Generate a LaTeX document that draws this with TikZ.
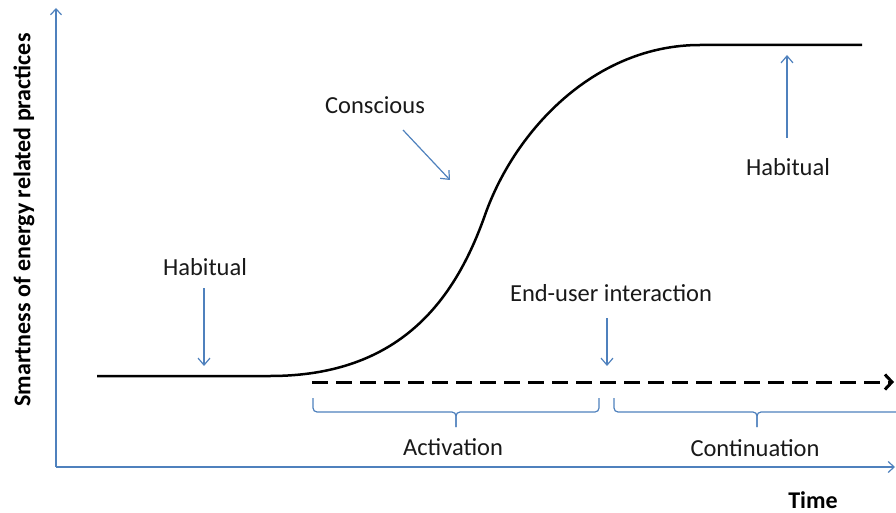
\documentclass[tikz,border=0pt]{standalone}
\usepackage{fontspec}
\setmainfont{Carlito}
\usetikzlibrary{arrows.meta}
\definecolor{axisblue}{RGB}{79,129,189}
\begin{document}
\begin{tikzpicture}[x=1pt,y=-1pt,
  lbl/.style={font=\fontsize{24.5}{28}\selectfont, text=black!90, inner sep=0pt},
  blbl/.style={font=\fontsize{24}{28}\selectfont\bfseries, text=black, inner sep=0pt},
  bluearrow/.style={draw=axisblue, line width=1.2pt, -{Straight Barb[length=7pt,width=12pt,line width=1.2pt]}},
  axisline/.style={draw=axisblue, line width=1.3pt, -{Straight Barb[length=6pt,width=11pt,line width=1.2pt]}},
  curve/.style={draw=black, line width=2.5pt},
  dashline/.style={draw=black, line width=3pt, dash pattern=on 16pt off 8pt, -{Straight Barb[length=7pt,width=15pt,line width=3pt]}},
  bracestyle/.style={draw=axisblue, line width=1.2pt, rounded corners=4pt}]
\useasboundingbox (0,0) rectangle (896,513);
\clip (0,0) rectangle (896,513);
% axes
\coordinate (origin) at (56,467);
\coordinate (ytop) at (56,8);
\coordinate (xend) at (895,467);
\draw[axisline] (origin) -- (ytop);
\draw[axisline] (origin) -- (xend);
\node[blbl, rotate=90] (ylabel) at (24,220) {Smartness of energy related practices};
\node[blbl] (time) at (813,500) {Time};
% S-curve
\coordinate (c0) at (97,376);
\coordinate (c1) at (270,376);
\coordinate (c2) at (485,215);
\coordinate (c3) at (700,45);
\coordinate (c4) at (862,45);
\draw[curve] (c0) -- (c1) .. controls (400,376) and (455,300) .. (c2)
  .. controls (515,130) and (595,45) .. (c3) -- (c4);
% dashed arrow
\coordinate (d0) at (312,382);
\coordinate (d1) at (894,382);
\draw[dashline] (d0) -- (d1);
% labels
\node[lbl] (hab1) at (205,267) {Habitual};
\node[lbl] (consc) at (375,105) {Conscious};
\node[lbl] (hab2) at (788,167) {Habitual};
\node[lbl] (enduser) at (611,293) {End-user interaction};
\node[lbl] (activ) at (453,447) {Activation};
\node[lbl] (contin) at (755,448) {Continuation};
% label arrows
\coordinate (a1s) at (204,288); \coordinate (a1e) at (204,366);
\coordinate (a2s) at (403,130); \coordinate (a2e) at (450,180);
\coordinate (a3s) at (787,138); \coordinate (a3e) at (787,55);
\coordinate (a4s) at (607,318); \coordinate (a4e) at (607,366);
\draw[bluearrow] (a1s) -- (a1e);
\draw[bluearrow] (a2s) -- (a2e);
\draw[bluearrow] (a3s) -- (a3e);
\draw[bluearrow] (a4s) -- (a4e);
% braces
\coordinate (b1l) at (313,398); \coordinate (b1r) at (599,398);
\coordinate (b1m) at (456,412); \coordinate (b1t) at (456,427);
\draw[bracestyle] (b1l) |- (b1m) -- (b1t);
\draw[bracestyle] (b1r) |- (b1m) -- (b1t);
\coordinate (b2l) at (614,398); \coordinate (b2r) at (900,398);
\coordinate (b2m) at (757,412); \coordinate (b2t) at (757,427);
\draw[bracestyle] (b2l) |- (b2m) -- (b2t);
\draw[bracestyle] (b2r) |- (b2m) -- (b2t);
\end{tikzpicture}
\end{document}
